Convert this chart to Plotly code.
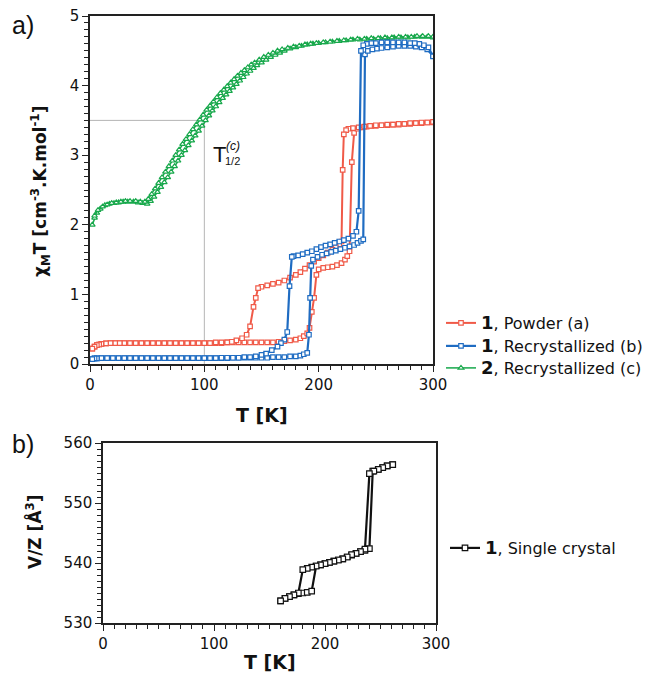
import plotly.graph_objects as go

# ---------------- data (a) ----------------
# compound 1, powder (a): heating branch
T_red_h = [2, 4, 6, 8, 10, 14, 18, 22, 26, 30, 35, 40, 45, 50, 55, 60, 65, 70, 75, 80, 85, 90, 95, 100,
           105, 110, 115, 120, 125, 130, 135, 140, 145, 150, 155, 160, 165, 170, 175, 180, 184, 187, 190,
           192, 194, 196, 198, 200, 204, 208, 212, 216, 220, 223, 225, 227, 229, 231, 234, 238, 242, 246,
           250, 255, 260, 265, 270, 275, 280, 285, 290, 295, 300]
chi_red_h = [0.22, 0.25, 0.27, 0.28, 0.29, 0.295, 0.30, 0.30, 0.30, 0.30, 0.30, 0.30, 0.30, 0.30, 0.30, 0.30,
             0.30, 0.30, 0.30, 0.30, 0.30, 0.30, 0.30, 0.30, 0.30, 0.30, 0.30, 0.31, 0.31, 0.31, 0.31, 0.31,
             0.31, 0.31, 0.31, 0.31, 0.32, 0.33, 0.34, 0.35, 0.37, 0.40, 0.44, 0.52, 0.75, 0.95, 1.28, 1.36,
             1.38, 1.39, 1.40, 1.42, 1.45, 1.50, 1.55, 1.62, 2.90, 3.32, 3.38, 3.40, 3.41, 3.42, 3.42, 3.43,
             3.43, 3.44, 3.44, 3.45, 3.45, 3.46, 3.46, 3.47, 3.47]
# compound 1, powder (a): cooling branch
T_red_c = [300, 295, 290, 285, 280, 275, 270, 265, 260, 255, 250, 245, 240, 235, 230, 226, 224, 222, 221, 220,
           218, 215, 212, 208, 204, 200, 196, 192, 188, 184, 180, 175, 170, 165, 160, 155, 150, 147, 145, 143,
           140, 137, 133, 128, 124, 120, 115, 110, 105, 100, 95, 90, 85, 80, 75, 70, 65, 60, 55, 50, 45, 40,
           35, 30, 26, 22, 18, 14, 10, 8, 6, 4, 2]
chi_red_c = [3.48, 3.47, 3.47, 3.46, 3.46, 3.45, 3.45, 3.44, 3.44, 3.43, 3.43, 3.42, 3.41, 3.40, 3.39, 3.38,
             3.36, 3.30, 2.79, 1.76, 1.72, 1.68, 1.64, 1.60, 1.56, 1.52, 1.47, 1.42, 1.37, 1.32, 1.28, 1.24,
             1.20, 1.17, 1.15, 1.13, 1.11, 1.09, 0.95, 0.82, 0.54, 0.42, 0.37, 0.34, 0.32, 0.31, 0.31, 0.31,
             0.30, 0.30, 0.30, 0.30, 0.30, 0.30, 0.30, 0.30, 0.30, 0.30, 0.30, 0.30, 0.30, 0.30, 0.30, 0.30,
             0.30, 0.30, 0.30, 0.295, 0.29, 0.28, 0.27, 0.25, 0.22]

# compound 1, recrystallized (b): heating branch
T_blue_h = [2, 4, 6, 10, 15, 20, 25, 30, 35, 40, 45, 50, 55, 60, 65, 70, 75, 80, 85, 90, 95, 100, 105, 110,
            115, 120, 125, 130, 135, 140, 145, 150, 155, 160, 165, 170, 175, 180, 184, 187, 190, 191.5, 192.5,
            193.5, 195, 199, 203, 207, 211, 215, 219, 223, 227, 231, 234, 237, 239, 240.5, 243, 247, 251, 255,
            260, 265, 270, 275, 280, 285, 290, 295, 300]
chi_blue_h = [0.07, 0.08, 0.08, 0.085, 0.085, 0.085, 0.085, 0.085, 0.085, 0.085, 0.085, 0.085, 0.085, 0.085,
              0.085, 0.085, 0.085, 0.085, 0.085, 0.085, 0.085, 0.085, 0.085, 0.085, 0.085, 0.085, 0.09, 0.09,
              0.09, 0.09, 0.09, 0.09, 0.09, 0.10, 0.10, 0.10, 0.11, 0.11, 0.12, 0.14, 0.16, 0.42, 0.95, 1.41,
              1.50, 1.54, 1.57, 1.59, 1.61, 1.63, 1.65, 1.67, 1.69, 1.71, 1.74, 1.77, 1.79, 4.45, 4.50, 4.52,
              4.53, 4.54, 4.55, 4.56, 4.57, 4.57, 4.57, 4.56, 4.55, 4.52, 4.43]
# compound 1, recrystallized (b): cooling branch
T_blue_c = [300, 296, 292, 288, 284, 280, 275, 270, 265, 260, 255, 250, 246, 242, 239, 237, 235, 233, 230, 226,
            222, 218, 214, 210, 206, 202, 198, 194, 190, 186, 182, 178, 176.5, 174.5, 172.5, 170, 167, 164, 159,
            154, 150, 145, 140, 135, 130, 125, 120, 115, 110, 105, 100, 95, 90, 85, 80, 75, 70, 65, 60, 55, 50,
            45, 40, 35, 30, 25, 20, 15, 10, 6, 4, 2]
chi_blue_c = [4.42, 4.55, 4.58, 4.60, 4.61, 4.61, 4.62, 4.62, 4.62, 4.62, 4.62, 4.61, 4.61, 4.60, 4.58, 4.50,
              2.20, 1.90, 1.84, 1.80, 1.78, 1.76, 1.74, 1.72, 1.70, 1.68, 1.65, 1.62, 1.60, 1.58, 1.56, 1.55,
              1.54, 1.12, 0.46, 0.35, 0.30, 0.25, 0.20, 0.15, 0.13, 0.11, 0.10, 0.10, 0.09, 0.09, 0.09, 0.09,
              0.085, 0.085, 0.085, 0.085, 0.085, 0.085, 0.085, 0.085, 0.085, 0.085, 0.085, 0.085, 0.085, 0.085,
              0.085, 0.085, 0.085, 0.085, 0.085, 0.085, 0.085, 0.08, 0.08, 0.07]

# compound 2, recrystallized (c): heating branch
T_green_h = [2, 4, 6, 9, 13, 17, 21, 25, 29, 33, 38, 42, 46, 50, 53, 56, 59, 62, 65, 68, 71, 74, 77, 80, 83,
             86, 89, 92, 95, 98, 101, 104, 107, 110, 113, 116, 119, 122, 125, 128, 131, 134, 137, 140, 143, 146,
             150, 154, 158, 162, 166, 170, 175, 180, 185, 190, 195, 200, 206, 212, 218, 224, 230, 236, 242, 248,
             254, 260, 266, 272, 278, 284, 290, 295, 300]
chi_green_h = [2.00, 2.10, 2.17, 2.23, 2.28, 2.30, 2.31, 2.32, 2.33, 2.33, 2.33, 2.32, 2.31, 2.30, 2.34, 2.40,
               2.47, 2.54, 2.61, 2.68, 2.76, 2.84, 2.92, 3.00, 3.07, 3.14, 3.21, 3.28, 3.35, 3.42, 3.50, 3.57,
               3.64, 3.70, 3.76, 3.82, 3.87, 3.92, 3.97, 4.02, 4.07, 4.12, 4.17, 4.21, 4.25, 4.29, 4.33, 4.37,
               4.41, 4.44, 4.47, 4.50, 4.53, 4.55, 4.57, 4.59, 4.60, 4.61, 4.62, 4.63, 4.64, 4.65, 4.66, 4.66,
               4.67, 4.67, 4.68, 4.68, 4.69, 4.69, 4.69, 4.70, 4.70, 4.70, 4.69]
# compound 2, recrystallized (c): cooling branch
T_green_c = [300, 296, 291, 286, 281, 276, 270, 264, 258, 252, 246, 240, 234, 228, 222, 216, 210, 204, 198, 193,
             188, 183, 178, 173, 168, 164, 160, 156, 152, 148, 144, 141, 138, 135, 132, 129, 126, 123, 120, 117,
             114, 111, 108, 105, 102, 99, 96, 93, 90, 87, 84, 81, 78, 75, 72, 69, 66, 63, 60, 57, 54, 51, 48,
             44, 40, 35, 31, 27, 23, 19, 15, 11, 7, 4]
chi_green_c = [4.70, 4.71, 4.71, 4.71, 4.70, 4.70, 4.70, 4.69, 4.69, 4.68, 4.68, 4.67, 4.67, 4.66, 4.65, 4.64,
               4.63, 4.62, 4.61, 4.60, 4.59, 4.57, 4.56, 4.54, 4.52, 4.50, 4.47, 4.44, 4.41, 4.37, 4.33, 4.30,
               4.26, 4.22, 4.18, 4.14, 4.09, 4.04, 3.99, 3.94, 3.89, 3.83, 3.77, 3.71, 3.65, 3.58, 3.51, 3.44,
               3.37, 3.30, 3.23, 3.16, 3.08, 3.00, 2.92, 2.84, 2.76, 2.68, 2.60, 2.52, 2.44, 2.37, 2.33, 2.33,
               2.34, 2.34, 2.34, 2.33, 2.32, 2.31, 2.29, 2.26, 2.21, 2.13]

# T1/2 marker of compound 2
t_half = 100
chi_half = 3.5

# ---------------- data (b) ----------------
T_vol_c = [261, 256, 252, 248, 244, 240, 236, 232, 228, 224, 220, 216, 212, 208, 204, 200, 196, 192, 188, 184,
           180, 176, 172, 168, 164, 160]
V_vol_c = [556.4, 556.2, 555.9, 555.6, 555.3, 554.9, 542.3, 541.9, 541.6, 541.4, 541.0, 540.7, 540.5, 540.3,
           540.1, 539.9, 539.7, 539.5, 539.3, 539.1, 538.9, 535.0, 534.7, 534.4, 534.1, 533.7]
T_vol_h = [160, 164, 168, 172, 176, 180, 184, 188, 192, 196, 200, 204, 208, 212, 216, 220, 224, 228, 232, 236,
           240, 243, 248, 252, 256, 261]
V_vol_h = [533.7, 534.1, 534.4, 534.7, 534.9, 535.0, 535.1, 535.3, 539.5, 539.7, 539.9, 540.1, 540.3, 540.5,
           540.7, 541.0, 541.3, 541.6, 541.9, 542.1, 542.4, 555.3, 555.6, 555.9, 556.2, 556.4]

# ---------------- styling ----------------
OFF = 8                       # page body margin of the browser
W, H = 654 - OFF, 681 - OFF   # figure size so that it fills the window exactly
RED, BLUE, GREEN, BLACK = "#f05a48", "#1f6cc2", "#17a84b", "#111111"
TICKFONT = dict(family="DejaVu Sans", size=15, color="#111")
LEGFONT = dict(family="DejaVu Sans", size=16, color="#111")


def px_x(p):
    return (p - OFF) / W


def px_y(p):
    return 1 - (p - OFF) / H


fig = go.Figure()


def add_series(x, y, color, symbol, name, show, lw, msize, xa, ya, legend="legend"):
    fig.add_trace(go.Scatter(
        x=x, y=y, mode="lines+markers", name=name, showlegend=show, legend=legend,
        legendgroup=name, xaxis=xa, yaxis=ya,
        line=dict(color=color, width=lw),
        marker=dict(symbol=symbol, size=msize, color="white", line=dict(color=color, width=1.2)),
    ))


def lab(num, txt):
    return "<b><span style='font-size:18px'>%s</span></b>, %s" % (num, txt)


add_series(T_green_h, chi_green_h, GREEN, "triangle-up", lab("2", "Recrystallized (c)"), True, 1.5, 5, "x", "y",
           "legend4")
add_series(T_green_c, chi_green_c, GREEN, "triangle-up", lab("2", "Recrystallized (c)"), False, 1.5, 5, "x", "y",
           "legend4")
add_series(T_red_h, chi_red_h, RED, "square", lab("1", "Powder (a)"), True, 2, 4.5, "x", "y", "legend")
add_series(T_red_c, chi_red_c, RED, "square", lab("1", "Powder (a)"), False, 2, 4.5, "x", "y", "legend")
add_series(T_blue_h, chi_blue_h, BLUE, "square", lab("1", "Recrystallized (b)"), True, 2.2, 4.5, "x", "y",
           "legend3")
add_series(T_blue_c, chi_blue_c, BLUE, "square", lab("1", "Recrystallized (b)"), False, 2.2, 4.5, "x", "y",
           "legend3")

add_series(T_vol_h, V_vol_h, BLACK, "square", lab("1", "Single crystal"), True, 2.2, 5.5, "x2", "y2", "legend2")
add_series(T_vol_c, V_vol_c, BLACK, "square", lab("1", "Single crystal"), False, 2.2, 5.5, "x2", "y2", "legend2")

# T1/2 guide lines
fig.add_shape(type="line", xref="x", yref="y", x0=0, x1=t_half, y0=chi_half, y1=chi_half,
              line=dict(color="#b5b5b5", width=1), layer="below")
fig.add_shape(type="line", xref="x", yref="y", x0=t_half, x1=t_half, y0=0, y1=chi_half,
              line=dict(color="#b5b5b5", width=1), layer="below")

axis_common = dict(
    showline=True, linecolor="#222", linewidth=1.5, mirror=True, showgrid=False, zeroline=False,
    ticks="outside", ticklen=6, tickwidth=1.2, tickcolor="#222", tickfont=TICKFONT, automargin=False,
    ticklabeloverflow="allow",
)


def leg(xp, yp):
    return dict(x=px_x(xp), y=px_y(yp), xanchor="left", yanchor="middle", font=LEGFONT,
                bgcolor="rgba(0,0,0,0)", itemwidth=30)


fig.update_layout(
    template="none",
    width=W, height=H, margin=dict(l=0, r=0, t=0, b=0, autoexpand=False),
    paper_bgcolor="white", plot_bgcolor="white",
    xaxis=dict(domain=[px_x(90), px_x(433)], range=[0, 300], dtick=100, anchor="y",
               minor=dict(dtick=10, ticks="outside", ticklen=4, tickcolor="#222", tickwidth=1),
               **axis_common),
    yaxis=dict(domain=[px_y(364), px_y(16)], range=[0, 5], dtick=1, anchor="x",
               minor=dict(dtick=0.1, ticks="outside", ticklen=4, tickcolor="#222", tickwidth=1),
               **axis_common),
    xaxis2=dict(domain=[px_x(103), px_x(436)], range=[0, 300], dtick=100, anchor="y2",
                minor=dict(dtick=10, ticks="outside", ticklen=4, tickcolor="#222", tickwidth=1),
                **axis_common),
    yaxis2=dict(domain=[px_y(623), px_y(443)], range=[530, 560], dtick=10, anchor="x2",
                minor=dict(dtick=1, ticks="outside", ticklen=4, tickcolor="#222", tickwidth=1),
                **axis_common),
    legend=leg(441, 323),
    legend3=leg(441, 346),
    legend4=leg(441, 368),
    legend2=leg(445, 548),
    showlegend=True,
)

TITLEFONT = dict(family="DejaVu Sans", size=19, color="#111")
ann = [
    dict(text="a)", x=px_x(10), y=px_y(25), xanchor="left", yanchor="middle",
         font=dict(family="Liberation Sans", size=25, color="#111")),
    dict(text="b)", x=px_x(10), y=px_y(444), xanchor="left", yanchor="middle",
         font=dict(family="Liberation Sans", size=25, color="#111")),
    dict(text="<b>T [K]</b>", x=px_x(262), y=px_y(415), xanchor="center", yanchor="middle", font=TITLEFONT),
    dict(text="<b>T [K]</b>", x=px_x(270), y=px_y(662), xanchor="center", yanchor="middle", font=TITLEFONT),
    dict(text="<b>χ<sub>M</sub>T [cm<sup>-3</sup>.K.mol<sup>-1</sup>]</b>", x=px_x(41), y=px_y(192),
         xanchor="center", yanchor="middle", textangle=-90,
         font=dict(family="DejaVu Sans", size=17, color="#111")),
    dict(text="<b>V/Z [Å<sup>3</sup>]</b>", x=px_x(34), y=px_y(532),
         xanchor="center", yanchor="middle", textangle=-90,
         font=dict(family="DejaVu Sans", size=17, color="#111")),
    dict(text="T", x=px_x(211), y=px_y(154), xanchor="left", yanchor="middle",
         font=dict(family="Liberation Sans", size=22, color="#111")),
    dict(text="<i>(c)</i>", x=px_x(224), y=px_y(146), xanchor="left", yanchor="middle",
         font=dict(family="Liberation Sans", size=12, color="#111")),
    dict(text="1/2", x=px_x(223), y=px_y(161), xanchor="left", yanchor="middle",
         font=dict(family="Liberation Sans", size=11, color="#111")),
]
for a in ann:
    a.update(xref="paper", yref="paper", showarrow=False)
    fig.add_annotation(**a)

fig.write_html("out.html")
